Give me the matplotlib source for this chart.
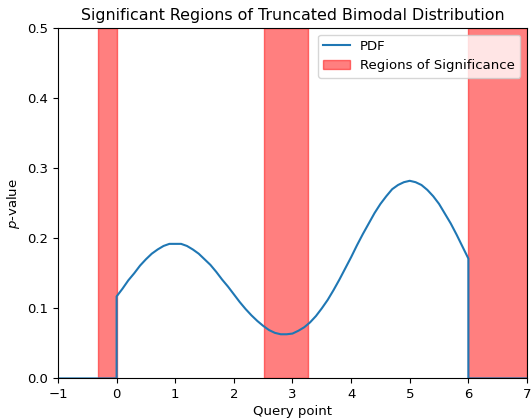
import matplotlib
matplotlib.use("Agg")
import matplotlib.pyplot as plt

plt.rcParams["font.size"] = 9.5

# PDF values (truncated to [0, 6], zero outside)
x_support = [0.0, 0.1, 0.2, 0.3, 0.4, 0.5, 0.6, 0.7, 0.8, 0.9,
             1.0, 1.1, 1.2, 1.3, 1.4, 1.5, 1.6, 1.7, 1.8, 1.9,
             2.0, 2.1, 2.2, 2.3, 2.4, 2.5, 2.6, 2.7, 2.8, 2.9,
             3.0, 3.1, 3.2, 3.3, 3.4, 3.5, 3.6, 3.7, 3.8, 3.9,
             4.0, 4.1, 4.2, 4.3, 4.4, 4.5, 4.6, 4.7, 4.8, 4.9,
             5.0, 5.1, 5.2, 5.3, 5.4, 5.5, 5.6, 5.7, 5.8, 5.9, 6.0]
pdf_support = [0.117, 0.128, 0.140, 0.150, 0.161, 0.170, 0.178, 0.184, 0.189, 0.192,
               0.192, 0.192, 0.189, 0.184, 0.178, 0.170, 0.162, 0.152, 0.141, 0.131,
               0.120, 0.109, 0.099, 0.090, 0.082, 0.075, 0.069, 0.065, 0.063, 0.063,
               0.064, 0.068, 0.073, 0.080, 0.089, 0.100, 0.112, 0.126, 0.141, 0.157,
               0.173, 0.190, 0.206, 0.221, 0.236, 0.249, 0.260, 0.270, 0.276, 0.280,
               0.282, 0.280, 0.276, 0.269, 0.260, 0.249, 0.235, 0.221, 0.205, 0.188, 0.171]

# Significant regions (start, end)
region_starts = [-0.32, 2.51, 6.0]
region_ends = [0.0, 3.26, 7.0]

x_min, x_max = -1, 7
y_min, y_max = 0, 0.5

x_all = [x_min, 0.0] + x_support + [6.0, x_max]
y_all = [0.0, 0.0] + pdf_support + [0.0, 0.0]

fig = plt.figure(figsize=(5.32, 4.2), dpi=100)
ax = fig.add_axes([0.109, 0.099, 0.8816, 0.8343])

ax.plot(x_all, y_all, color="#1f77b4", lw=1.5, label="PDF")
for i, (s, e) in enumerate(zip(region_starts, region_ends)):
    ax.axvspan(s, e, color="red", alpha=0.5,
               label="Regions of Significance" if i == 0 else None)

ax.set_xlim(x_min, x_max)
ax.set_ylim(y_min, y_max)
ax.set_xlabel("Query point", labelpad=3)
ax.set_ylabel("$p$-value")
ax.set_title("Significant Regions of Truncated Bimodal Distribution")
ax.legend(loc="upper right")

fig.savefig("out.png", dpi=100)
